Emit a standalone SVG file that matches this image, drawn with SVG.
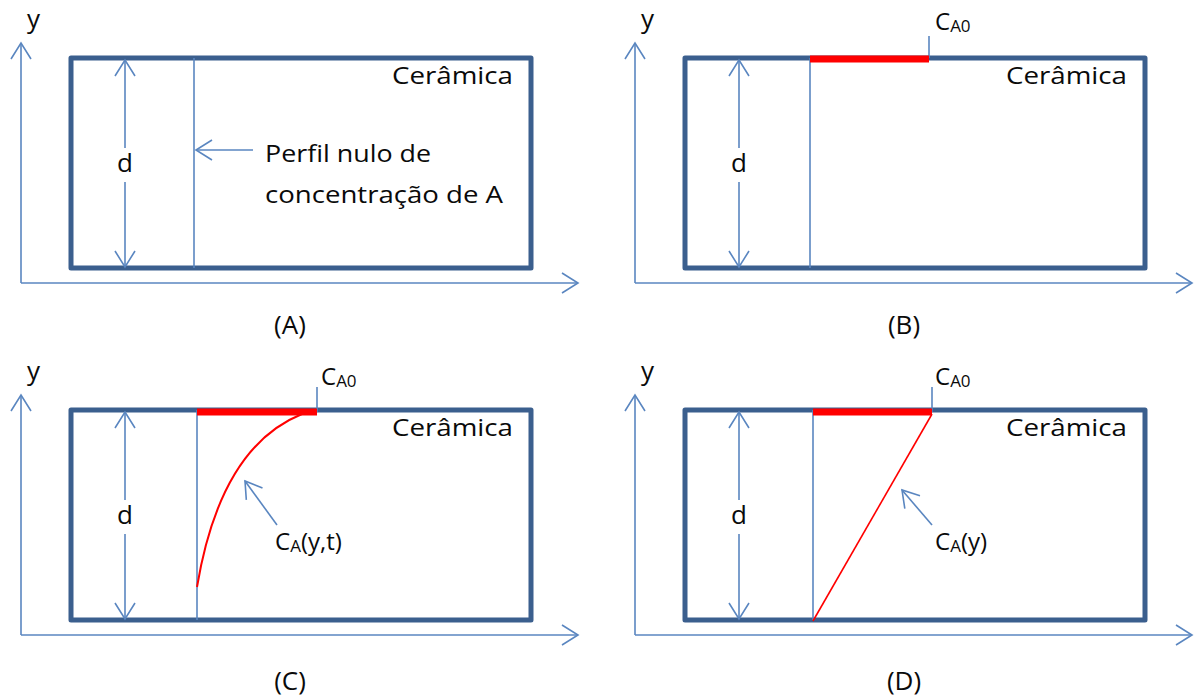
<svg xmlns="http://www.w3.org/2000/svg" width="1194" height="698" viewBox="0 0 1194 698">
<style>
.box{fill:none;stroke:#3b5f8e;stroke-width:5;stroke-linejoin:round}
.ln{fill:none;stroke:#5a86c0;stroke-width:1.6}
.ax{fill:none;stroke:#5a86c0;stroke-width:1.6;marker-end:url(#ah)}
.red{fill:none;stroke:#ff0000;stroke-width:7}
.rc{fill:none;stroke:#ff0000;stroke-width:2}
text{font-family:"Open Sans","Liberation Sans",sans-serif;font-size:24px;fill:#0a0a0a}
.big{font-size:26px}
.sub{font-size:17px}
</style>
<defs>
<marker id="ah" markerUnits="userSpaceOnUse" markerWidth="40" markerHeight="40" viewBox="-20 -20 40 40" refX="0" refY="0" orient="auto">
<path d="M-16,-10 L0,0 L-16,10" fill="none" stroke="#5a86c0" stroke-width="1.6"/>
</marker>
</defs>
<rect width="1194" height="698" fill="#ffffff"/>

<g id="panelA">
<g id="A-axes">
<path class="ax" d="M21,283 L21,43"/>
<path class="ax" d="M21,283 L578,283"/>
</g>
<rect id="A-box" class="box" x="71" y="58" width="460" height="210"/>
<g id="A-connectors">
<path class="ln" d="M125,148 L125,60" marker-end="url(#ah)"/>
<path class="ln" d="M125,182 L125,267" marker-end="url(#ah)"/>
<path class="ln" d="M194,58 L194,268"/>
<path class="ln" d="M253,150 L196,150" marker-end="url(#ah)"/>
</g>
<text class="big" x="27" y="28">y</text>
<text class="big" x="117" y="172">d</text>
<text x="392" y="84" textLength="121" lengthAdjust="spacingAndGlyphs">Cerâmica</text>
<text x="265" y="162" textLength="166" lengthAdjust="spacingAndGlyphs">Perfil nulo de</text>
<text x="265" y="203" textLength="238" lengthAdjust="spacingAndGlyphs">concentração de A</text>
<text class="big" x="290" y="334" text-anchor="middle">(A)</text>
</g>

<g id="panelB" transform="translate(614,0)">
<g id="B-axes">
<path class="ax" d="M21,283 L21,43"/>
<path class="ax" d="M21,283 L578,283"/>
</g>
<rect id="B-box" class="box" x="71" y="58" width="460" height="210"/>
<g id="B-connectors">
<path class="ln" d="M125,148 L125,60" marker-end="url(#ah)"/>
<path class="ln" d="M125,182 L125,267" marker-end="url(#ah)"/>
<path class="ln" d="M196,58 L196,268"/>
<path class="ln" d="M315,58 L315,36"/>
<path class="red" d="M196,59 L315,59"/>
</g>
<text class="big" x="27" y="28">y</text>
<text class="big" x="117" y="172">d</text>
<text x="392" y="84" textLength="121" lengthAdjust="spacingAndGlyphs">Cerâmica</text>
<text x="321" y="30">C<tspan class="sub" dy="2">A0</tspan></text>
<text class="big" x="290" y="334" text-anchor="middle">(B)</text>
</g>

<g id="panelC" transform="translate(0,352)">
<g id="C-axes">
<path class="ax" d="M21,283 L21,43"/>
<path class="ax" d="M21,283 L578,283"/>
</g>
<rect id="C-box" class="box" x="71" y="58" width="460" height="210"/>
<g id="C-connectors">
<path class="ln" d="M125,148 L125,60" marker-end="url(#ah)"/>
<path class="ln" d="M125,182 L125,267" marker-end="url(#ah)"/>
<path class="ln" d="M197,58 L197,268"/>
<path class="ln" d="M317,60 L317,35"/>
<path class="red" d="M197,60 L317,60"/>
<path class="rc" d="M197,235 C212,145 245,85 302,62"/>
<path class="ln" d="M277,173 L245,129" marker-end="url(#ah)"/>
</g>
<text class="big" x="27" y="28">y</text>
<text class="big" x="117" y="172">d</text>
<text x="392" y="84" textLength="121" lengthAdjust="spacingAndGlyphs">Cerâmica</text>
<text x="321" y="33">C<tspan class="sub" dy="2">A0</tspan></text>
<text x="275" y="198">C<tspan class="sub" dy="2">A</tspan><tspan dy="-2">(y,t)</tspan></text>
<text class="big" x="290" y="338" text-anchor="middle">(C)</text>
</g>

<g id="panelD" transform="translate(614,352)">
<g id="D-axes">
<path class="ax" d="M21,283 L21,43"/>
<path class="ax" d="M21,283 L578,283"/>
</g>
<rect id="D-box" class="box" x="71" y="58" width="460" height="210"/>
<g id="D-connectors">
<path class="ln" d="M125,148 L125,60" marker-end="url(#ah)"/>
<path class="ln" d="M125,182 L125,267" marker-end="url(#ah)"/>
<path class="ln" d="M199,58 L199,268"/>
<path class="ln" d="M318,60 L318,35"/>
<path class="red" d="M199,60 L318,60"/>
<path class="rc" d="M199,269 L318,62" style="stroke-width:1.6"/>
<path class="ln" d="M318,173 L288,138" marker-end="url(#ah)"/>
</g>
<text class="big" x="27" y="28">y</text>
<text class="big" x="117" y="172">d</text>
<text x="392" y="84" textLength="121" lengthAdjust="spacingAndGlyphs">Cerâmica</text>
<text x="321" y="33">C<tspan class="sub" dy="2">A0</tspan></text>
<text x="321" y="198">C<tspan class="sub" dy="2">A</tspan><tspan dy="-2">(y)</tspan></text>
<text class="big" x="290" y="338" text-anchor="middle">(D)</text>
</g>
</svg>
